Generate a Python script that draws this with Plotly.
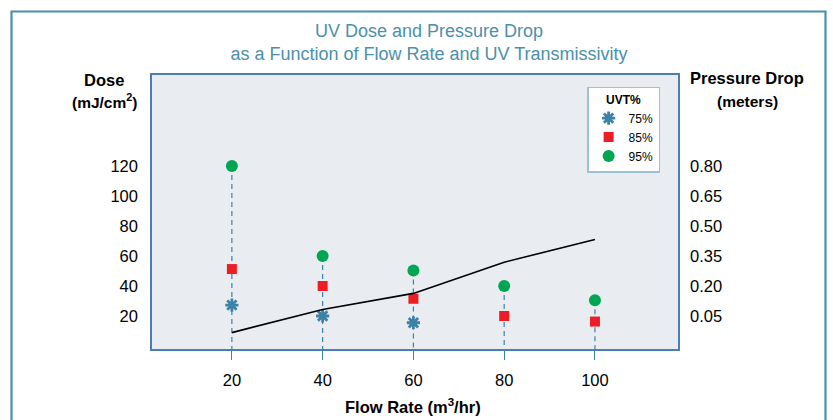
import plotly.graph_objects as go

flow_rate = [20, 40, 60, 80, 100]
dose_75 = [27.3, 20, 15.5]
dose_85 = [51.3, 40, 31.5, 20, 16.3]
dose_95 = [120, 60, 50.3, 40, 30.5]
pressure_drop = [-0.033, 0.083, 0.163, 0.319, 0.433]
x_ticks = [20, 40, 60, 80, 100]
dose_ticks = [20, 40, 60, 80, 100, 120]
pressure_ticks = [0.05, 0.20, 0.35, 0.50, 0.65, 0.80]

TEAL = "#4b90ab"
STEEL = "#3b82a6"
RED = "#ee1c25"
GREEN = "#00a651"
FONT = "Liberation Sans, Arial, sans-serif"

fig = go.Figure()

# dashed drop lines from top marker to axis
dx, dy = [], []
for x, top in zip(flow_rate, dose_95):
    dx += [x, x, None]
    dy += [top, -10, None]
fig.add_trace(go.Scatter(x=dx, y=dy, mode="lines", line=dict(color=STEEL, width=1.2, dash="5px,4px"),
                         showlegend=False, hoverinfo="skip"))

# pressure drop line
fig.add_trace(go.Scatter(x=flow_rate, y=pressure_drop, mode="lines", yaxis="y2",
                         line=dict(color="black", width=1.6), showlegend=False))

fig.add_trace(go.Scatter(x=flow_rate[:len(dose_75)], y=dose_75, mode="markers", name="75%",
                         marker=dict(symbol="asterisk", size=11, color=STEEL,
                                     line=dict(color=STEEL, width=2.8))))
fig.add_trace(go.Scatter(x=flow_rate, y=dose_85, mode="markers", name="85%",
                         marker=dict(symbol="square", size=10, color=RED)))
fig.add_trace(go.Scatter(x=flow_rate, y=dose_95, mode="markers", name="95%",
                         marker=dict(symbol="circle", size=12, color=GREEN)))

fig.update_layout(
    width=833, height=420,
    margin=dict(l=152, r=155, t=75, b=71),
    paper_bgcolor="white",
    plot_bgcolor="#e9edf2",
    font=dict(family=FONT, color="black", size=12),
    title=dict(text="UV Dose and Pressure Drop<br>as a Function of Flow Rate and UV Transmissivity",
               x=0.515, xanchor="center", y=0.912, yanchor="middle",
               font=dict(family=FONT, size=18, color=TEAL)),
    xaxis=dict(range=[2.4, 118.3], tickvals=x_ticks, ticks="outside", ticklen=9, tickcolor=STEEL,
               tickwidth=1.2, showgrid=False, zeroline=False, showline=True, linecolor="#4a7fb0",
               linewidth=1.5, mirror=True, tickfont=dict(size=16.5), ticklabelstandoff=6),
    yaxis=dict(range=[-2, 180.7], tickvals=dose_ticks, showgrid=False, zeroline=False,
               showline=True, linecolor="#4a7fb0", linewidth=1.5, mirror=True,
               tickfont=dict(size=16.5), ticks="", ticklabelstandoff=9),
    yaxis2=dict(range=[-0.115, 1.2553], tickvals=pressure_ticks, tickformat=".2f", overlaying="y",
                side="right", showgrid=False, zeroline=False, showline=False,
                tickfont=dict(size=16.5), ticks="", ticklabelstandoff=11),
    legend=dict(title=dict(text="<b>UVT%</b>", side="top center", font=dict(size=12)),
                x=0.966, y=0.958, xanchor="right", yanchor="top",
                bgcolor="white", bordercolor="#9cc0d6", borderwidth=1.5,
                font=dict(size=12), itemwidth=30, tracegroupgap=0),
    showlegend=True,
)

annotations = [
    dict(text="<b>Dose</b>", x=104, y=80, size=16.5),
    dict(text="<b>(mJ/cm<sup>2</sup>)</b>", x=104, y=101, size=15.5),
    dict(text="<b>Pressure Drop</b>", x=747, y=78, size=16.5),
    dict(text="<b>(meters)</b>", x=747, y=101, size=15.5),
    dict(text="<b>Flow Rate (m<sup>3</sup>/hr)</b>", x=413, y=406, size=16.5),
]
for a in annotations:
    fig.add_annotation(text=a["text"],
                       x=(a["x"] - 152) / 526, y=(349 - a["y"]) / 274,
                       xref="paper", yref="paper", showarrow=False, xanchor="center", yanchor="middle",
                       font=dict(size=a["size"], color="black"))

# outer frame
fig.add_shape(type="rect", xref="paper", yref="paper",
              x0=(11.5 - 152) / 526, x1=(825.5 - 152) / 526,
              y0=(349 - 440) / 274, y1=(349 - 11.5) / 274,
              line=dict(color=TEAL, width=2.2), fillcolor="rgba(0,0,0,0)", layer="below")

fig.write_html("out.html", config={"displayModeBar": False},
               post_script="document.body.style.margin='0';document.body.style.overflow='hidden';")
